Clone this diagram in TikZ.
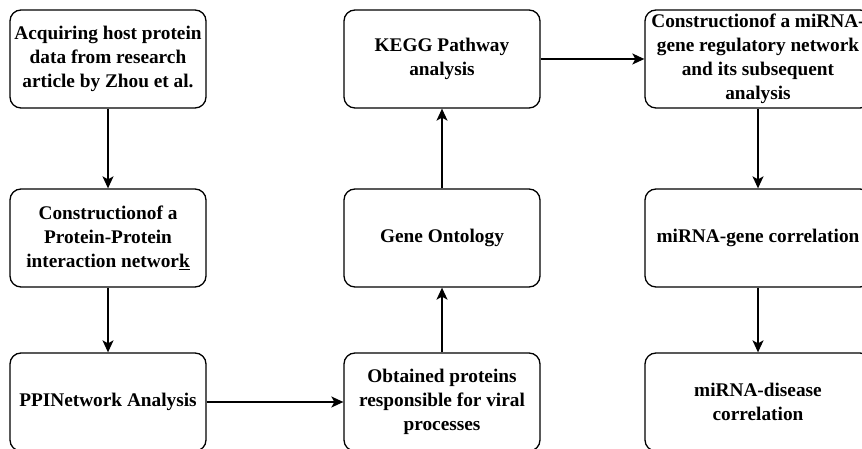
\documentclass[tikz,border=0pt]{standalone}
\usepackage{fontspec}
\setmainfont{Liberation Serif}
\usetikzlibrary{arrows.meta, positioning}

\begin{document}
\begin{tikzpicture}[x=1pt, y=1pt,
  stagebox/.style={draw, line width=1.3pt, rounded corners=11pt,
    minimum width=196pt, minimum height=98pt, inner sep=2pt, align=center,
    font=\fontsize{19.3}{24}\selectfont\bfseries},
  widebox/.style={stagebox, minimum width=226pt},
  flow/.style={line width=1.4pt, -{Stealth[length=12pt, width=11pt, inset=3pt]}}]
\path[use as bounding box, clip] (0,0) rectangle (862,449);
\fill[white] (0,0) rectangle (862,449);

% Left column: PPI side
\node[stagebox] (acquire) at (108,390) {Acquiring host protein\\data from research\\article by Zhou et al.};
\node[stagebox] (ppibuild) at (108,211) {Constructionof a\\Protein-Protein\\interaction networ\underline{k}};
\node[stagebox] (ppianalysis) at (108,47) {PPINetwork Analysis};

% Middle column: functional analysis
\node[stagebox] (viral) at (442,47) {Obtained proteins\\responsible for viral\\processes};
\node[stagebox] (geneont) at (442,211) {Gene Ontology};
\node[stagebox] (kegg) at (442,390) {KEGG Pathway\\analysis};

% Right column: miRNA side
\node[widebox] (mirnanet) at (758,390) {Constructionof a miRNA-\\gene regulatory network\\and its subsequent\\analysis};
\node[widebox] (mirnagene) at (758,211) {miRNA-gene correlation};
\node[widebox] (mirnadis) at (758,47) {miRNA-disease\\correlation};

% Connections
\draw[flow] (acquire) -- (ppibuild);
\draw[flow] (ppibuild) -- (ppianalysis);
\draw[flow] (ppianalysis) -- (viral);
\draw[flow] (viral) -- (geneont);
\draw[flow] (geneont) -- (kegg);
\draw[flow] (kegg) -- (mirnanet);
\draw[flow] (mirnanet) -- (mirnagene);
\draw[flow] (mirnagene) -- (mirnadis);
\end{tikzpicture}
\end{document}
